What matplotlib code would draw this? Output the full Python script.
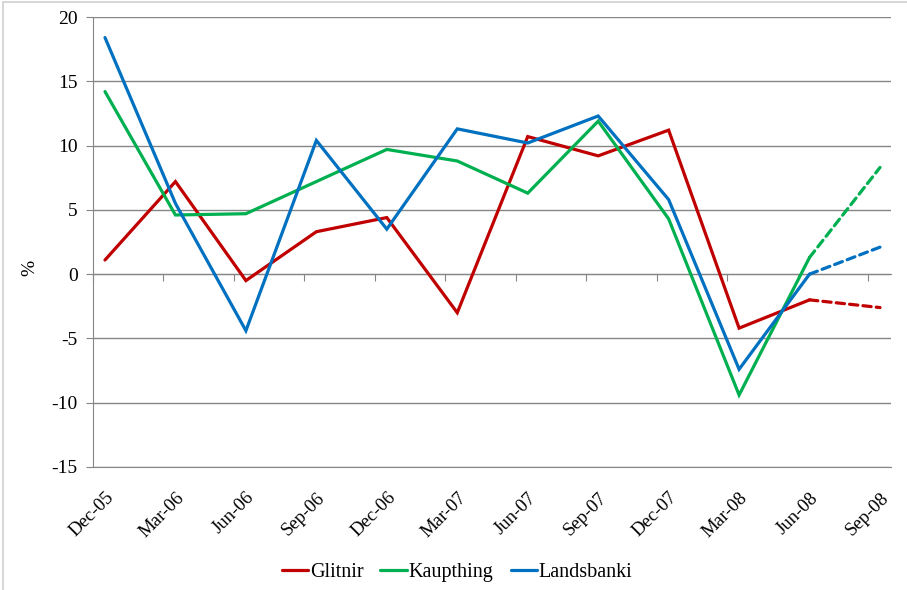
import matplotlib
matplotlib.use("Agg")
import matplotlib.pyplot as plt
from matplotlib.patches import Rectangle

# ----- data (% change) -----
quarters = ["Dec-05", "Mar-06", "Jun-06", "Sep-06", "Dec-06", "Mar-07",
            "Jun-07", "Sep-07", "Dec-07", "Mar-08", "Jun-08", "Sep-08"]
glitnir    = [1.1, 7.2, -0.5, 3.3, 4.4, -3.0, 10.7, 9.2, 11.2, -4.2, -2.0, -2.6]
kaupthing  = [14.2, 4.6, 4.7, 7.2, 9.7, 8.8, 6.3, 11.9, 4.3, -9.4, 1.3, 8.3]
landsbanki = [18.4, 5.5, -4.4, 10.4, 3.5, 11.3, 10.2, 12.3, 5.8, -7.4, 0.0, 2.1]
N_SOLID = 11   # last segment (Jun-08 -> Sep-08) is drawn dashed

series = [("Glitnir", glitnir, "#C00000"),
          ("Kaupthing", kaupthing, "#00B050"),
          ("Landsbanki", landsbanki, "#0070C0")]

plt.rcParams["font.family"] = ["Liberation Serif", "DejaVu Serif"]
plt.rcParams["axes.unicode_minus"] = False
GRID = "#868686"

fig = plt.figure(figsize=(9.07, 5.90), dpi=100)
ax = fig.add_axes([93 / 907, 1 - 467 / 590, 798 / 907, 450 / 590])

x = list(range(len(quarters)))
for name, vals, col in series:
    ax.plot(x[:N_SOLID], vals[:N_SOLID], color=col, lw=2.3, label=name,
            solid_capstyle="round", solid_joinstyle="miter", zorder=3)
    ax.plot(x[N_SOLID - 1:], vals[N_SOLID - 1:], color=col, lw=2.3,
            dashes=(2.6, 1.6), dash_capstyle="round", zorder=3)

off = 12 / 70.5
ax.set_xlim(-off, len(quarters) - 1 + 11 / 70.5)
ax.set_ylim(-15, 20)
ax.set_yticks(range(-15, 21, 5))
ax.yaxis.grid(True, color=GRID, lw=1)
ax.set_axisbelow(True)
for s in ["top", "right"]:
    ax.spines[s].set_visible(False)
ax.spines["left"].set_color(GRID)
ax.spines["bottom"].set_color(GRID)
ax.tick_params(axis="y", length=5, color=GRID, labelsize=14, pad=6)

ax.set_xticks(x)
ax.set_xticklabels(quarters, rotation=45, ha="right", rotation_mode="anchor", fontsize=13.5)
ax.tick_params(axis="x", length=0, pad=16)

# category axis crosses at 0 with tick marks at category boundaries
sec = ax.secondary_xaxis(15 / 35)
sec.set_xticks([i - off for i in range(len(quarters) + 1)])
sec.tick_params(length=5, color=GRID, labelbottom=False)
sec.spines["bottom"].set_color(GRID)

fig.text(30 / 907, 1 - 268 / 590, "%", rotation=90, ha="center", va="center", fontsize=14)

handles, labels = ax.get_legend_handles_labels()
fig.legend(handles, labels, loc="center", bbox_to_anchor=(457 / 907, 1 - 572 / 590),
           ncol=3, frameon=False, fontsize=14.5, handlelength=1.3, handletextpad=0.1,
           columnspacing=0.85)

fig.add_artist(Rectangle((3 / 907, -0.01), 1.0, 1 - 1.5 / 590 + 0.01, transform=fig.transFigure,
                         fill=False, ec="#d0d0d0", lw=1.2))

fig.savefig("out.png", dpi=100)
